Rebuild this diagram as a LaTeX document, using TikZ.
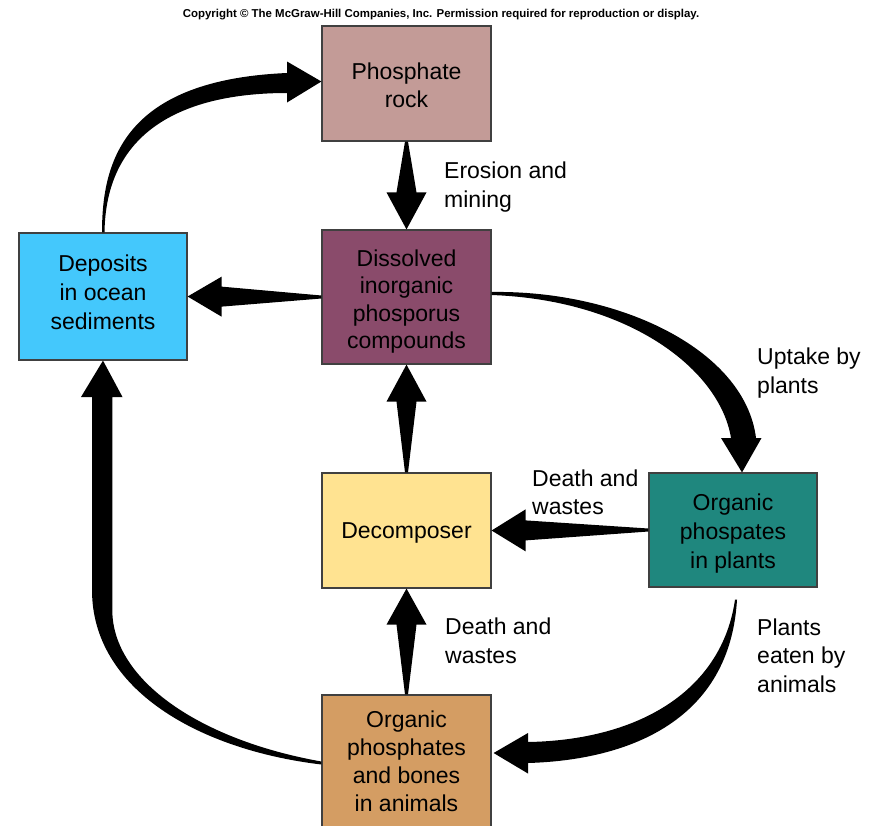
\documentclass[tikz,border=0pt]{standalone}
\usepackage{fontspec}
\setmainfont{Liberation Sans}
\usetikzlibrary{calc}
\definecolor{rockc}{RGB}{195,155,151}
\definecolor{dissc}{RGB}{138,75,107}
\definecolor{depc}{RGB}{68,200,252}
\definecolor{decc}{RGB}{255,227,145}
\definecolor{plc}{RGB}{31,135,126}
\definecolor{anc}{RGB}{212,157,99}
\newcommand\taperarrow[5]{%
  \coordinate (ta) at (#1);
  \coordinate (tb) at (#2);
  \coordinate (tc) at ($(tb)!#3!(ta)$);
  \fill[black] ($(ta)!1.5pt!90:(tb)$) -- ($(tc)!#4!90:(tb)$) -- ($(tc)!#5!90:(tb)$) -- (tb)
    -- ($(tc)!#5!-90:(tb)$) -- ($(tc)!#4!-90:(tb)$) -- ($(ta)!1.5pt!-90:(tb)$) -- cycle;
}
\begin{document}
\begin{tikzpicture}[x=1pt,y=-1pt,
  box/.style={draw=black!75, line width=1.2pt, inner sep=0pt},
  txt/.style={inner sep=0pt, align=center, font=\fontsize{23}{28}\selectfont, text=black},
  lbl/.style={anchor=west, align=left, inner sep=0pt, font=\fontsize{23}{28.5}\selectfont}]
\useasboundingbox (0,0) rectangle (874,825);
\clip (0,0) rectangle (874,825);
% copyright
\node[font=\fontsize{11.45}{13}\selectfont\bfseries, inner sep=0pt] (copy) at (441,14.5)
  {Copyright \textcopyright\ The McGraw-Hill Companies, Inc. Permission required for reproduction or display.};
% boxes
\node[box, fill=rockc, minimum width=169pt, minimum height=115pt] (rock) at (406.5,83.5) {};
\node[box, fill=dissc, minimum width=169pt, minimum height=134pt] (diss) at (406.5,297) {};
\node[box, fill=depc, minimum width=168pt, minimum height=127pt] (dep) at (103,296.5) {};
\node[box, fill=decc, minimum width=169pt, minimum height=115pt] (dec) at (406.5,530.5) {};
\node[box, fill=plc, minimum width=168pt, minimum height=114pt] (pl) at (733,530) {};
\node[box, fill=anc, minimum width=169pt, minimum height=132pt] (an) at (406.5,761) {};
% box texts
\node[txt] (rockt) at ($(rock)+(0,1.5)$) {Phosphate\\rock};
\node[txt, font=\fontsize{23}{27.3}\selectfont] (disst) at ($(diss)+(0,4.5)$) {Dissolved\\inorganic\\phosporus\\compounds};
\node[txt, font=\fontsize{23}{29}\selectfont] (dept) at ($(dep)+(0,-4.5)$) {Deposits\\in ocean\\sediments};
\node[txt] (dect) at ($(dec)+(0,2)$) {Decomposer};
\node[txt, font=\fontsize{23}{29}\selectfont] (plt) at ($(pl)+(0,3.5)$) {Organic\\phospates\\in plants};
\node[txt] (ant) at (an) {Organic\\phosphates\\and bones\\in animals};
% labels
\node[lbl, font=\fontsize{23}{29}\selectfont] (l1) at (444,187) {Erosion and\\mining};
\node[lbl] (l2) at (757,373) {Uptake by\\plants};
\node[lbl] (l3) at (532,492.5) {Death and\\wastes};
\node[lbl] (l4) at (445,641) {Death and\\wastes};
\node[lbl] (l5) at (757,655.5) {Plants\\eaten by\\animals};
% straight arrows
\taperarrow{rock.south}{diss.north}{37pt}{10pt}{20pt}
\taperarrow{diss.west}{dep.east}{34pt}{10pt}{20pt}
\taperarrow{pl.west}{dec.east}{34pt}{10pt}{21pt}
\taperarrow{dec.north}{diss.south}{37pt}{10pt}{20pt}
\taperarrow{an.north}{dec.south}{36pt}{10pt}{20pt}
% deposits -> phosphate rock
\fill[black] ($(dep.north)+(-1,0)$) .. controls (102,160) and (125,80) .. (287,73)
  -- (287,61.5) -- ($(rock.west)+(0,-2)$) -- (287,102.5) -- (287,93)
  .. controls (200,93) and (106,120) .. ($(dep.north)+(1.5,0)$) -- cycle;
% dissolved -> plants
\fill[black] ($(diss.east)+(0,-5)$) .. controls (620,290) and (745,350) .. (756,438)
  -- (761.5,438) -- ($(pl.north)+(9,0)$) -- (721,438) -- (731,438)
  .. controls (720,370) and (630,300) .. ($(diss.east)+(0,-2)$) -- cycle;
% plants -> animals
\fill[black] ($(pl.south)+(4,12)$) .. controls (730,720) and (630,760) .. (528,763)
  -- (528,773.5) -- ($(an.east)+(2,-8)$) -- (528,733) -- (528,742)
  .. controls (640,740) and (722,690) .. ($(pl.south)+(2,12)$) -- cycle;
% animals -> deposits
\fill[black] ($(an.west)+(0,3.5)$) .. controls (200,750) and (92,690) .. (92,590)
  -- (92,397) -- (81,397) -- (dep.south) -- (122.5,397) -- (112.3,397) -- (112.3,610)
  .. controls (112.3,680) and (200,740) .. ($(an.west)+(0,0.5)$) -- cycle;
\end{tikzpicture}
\end{document}
